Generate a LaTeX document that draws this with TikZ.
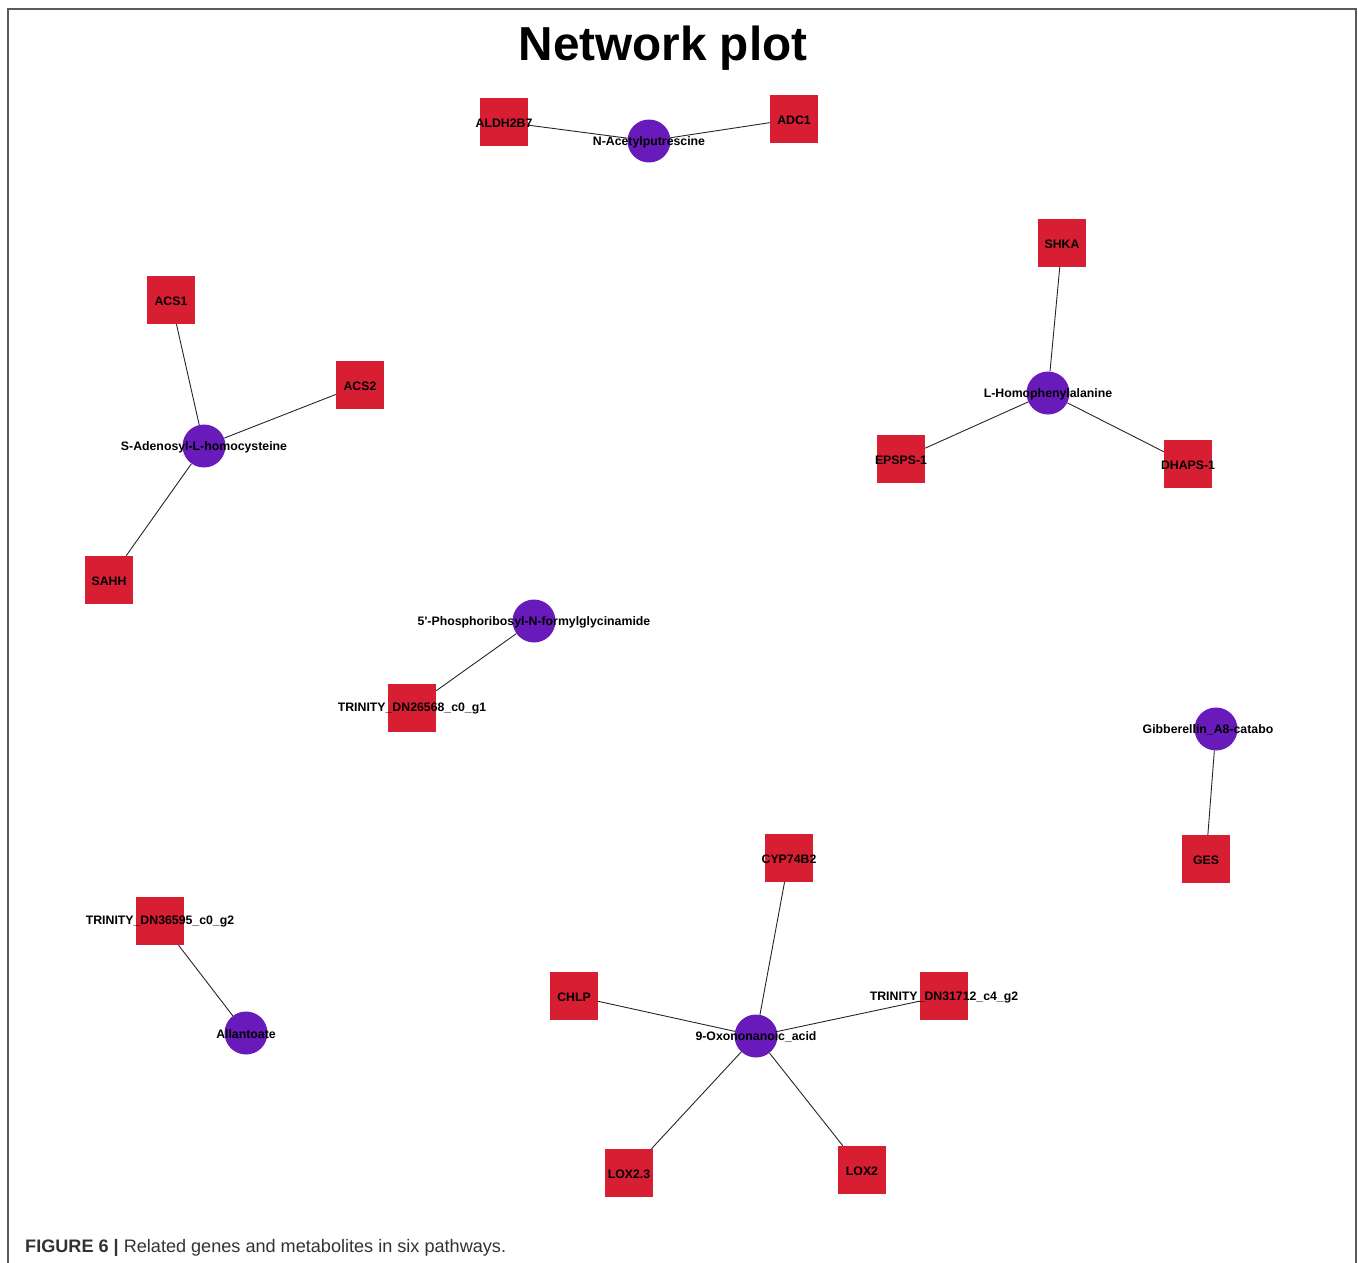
\documentclass[tikz,border=0pt]{standalone}
\usepackage{fontspec}
\setmainfont{Liberation Sans}
\usetikzlibrary{backgrounds}
\definecolor{genered}{RGB}{216,30,50}
\definecolor{metpurple}{RGB}{104,26,186}
\definecolor{framegray}{RGB}{90,90,90}
\definecolor{capgray}{RGB}{50,50,50}
\begin{document}
\begin{tikzpicture}[
	x=1pt, y=-1pt,
	g/.style = {rectangle, fill=genered, minimum size=48, inner sep=0},
	m/.style = {circle, fill=metpurple, minimum size=43, inner sep=0},
	l/.style = {font=\fontsize{12.3}{13}\selectfont\bfseries, text=black, inner sep=0, yshift=-1pt},
	e/.style = {black!85, line width=0.9}
	]
	\useasboundingbox (0, 0) rectangle (1358, 1263);
	
	% === === === Frame === === ===
	\draw[framegray, line width=2] (8, 1263) -- (8, 9) -- (1356, 9) -- (1356, 1263);
	\node[font=\fontsize{47.7}{50}\selectfont\bfseries] (title) at (663, 48) {Network plot};
	\node[anchor=base west, text=capgray, font=\fontsize{18.1}{20}\selectfont, inner sep=0] (cap) at (25, 1252) {\textbf{FIGURE 6 |} Related genes and metabolites in six pathways.};
	
	% === === === Nodes === === ===
	\node[g]	(aldh)	at	(504, 122)	[label={[l]center:ALDH2B7}] {};
	\node[m]	(nacp)	at	(649, 141)	[label={[l]center:N-Acetylputrescine}] {};
	\node[g]	(adc1)	at	(794, 119)	[label={[l]center:ADC1}] {};
	
	\node[g]	(shka)	at	(1062, 243)	[label={[l]center:SHKA}] {};
	\node[m]	(lhpa)	at	(1048, 393)	[label={[l]center:L-Homophenylalanine}] {};
	\node[g]	(epsps)	at	(901, 459)	[label={[l]center:EPSPS-1}] {};
	\node[g]	(dhaps)	at	(1188, 464)	[label={[l]center:DHAPS-1}] {};
	
	\node[g]	(acs1)	at	(171, 300)	[label={[l]center:ACS1}] {};
	\node[g]	(acs2)	at	(360, 385)	[label={[l]center:ACS2}] {};
	\node[m]	(sahc)	at	(204, 446)	[label={[l]center:S-Adenosyl-L-homocysteine}] {};
	\node[g]	(sahh)	at	(109, 580)	[label={[l]center:SAHH}] {};
	
	\node[m]	(prfg)	at	(534, 621)	[label={[l]center:5\textquotesingle-Phosphoribosyl-N-formylglycinamide}] {};
	\node[g]	(dn26)	at	(412, 708)	[label={[l]center:TRINITY\_DN26568\_c0\_g1}] {};
	
	\node[m]	(gib)	at	(1216, 729)	[label={[l, xshift=-8pt]center:Gibberellin\_A8-catabo}] {};
	\node[g]	(ges)	at	(1206, 859)	[label={[l]center:GES}] {};
	
	\node[g]	(cyp)	at	(789, 858)	[label={[l]center:CYP74B2}] {};
	\node[g]	(chlp)	at	(574, 996)	[label={[l]center:CHLP}] {};
	\node[g]	(dn31)	at	(944, 996)	[label={[l]center:TRINITY\_DN31712\_c4\_g2}] {};
	\node[m]	(oxo)	at	(756, 1036)	[label={[l]center:9-Oxononanoic\_acid}] {};
	\node[g]	(lox23)	at	(629, 1173)	[label={[l]center:LOX2.3}] {};
	\node[g]	(lox2)	at	(862, 1170)	[label={[l]center:LOX2}] {};
	
	\node[g]	(dn36)	at	(160, 921)	[label={[l]center:TRINITY\_DN36595\_c0\_g2}] {};
	\node[m]	(alla)	at	(246, 1033)	[label={[l]center:Allantoate}] {};
	
	% === === === Lines === === ===
	\begin{scope}[on background layer]
	\draw[e] (aldh) to (nacp);
	\draw[e] (nacp) to (adc1);
	
	\draw[e] (shka) to (lhpa);
	\draw[e] (lhpa) to (epsps);
	\draw[e] (lhpa) to (dhaps);
	
	\draw[e] (acs1) to (sahc);
	\draw[e] (acs2) to (sahc);
	\draw[e] (sahc) to (sahh);
	
	\draw[e] (prfg) to (dn26);
	
	\draw[e] (gib) to (ges);
	
	\draw[e] (cyp) to (oxo);
	\draw[e] (chlp) to (oxo);
	\draw[e] (dn31) to (oxo);
	\draw[e] (oxo) to (lox23);
	\draw[e] (oxo) to (lox2);
	
	\draw[e] (dn36) to (alla);
	\end{scope}
	
\end{tikzpicture}
\end{document}
